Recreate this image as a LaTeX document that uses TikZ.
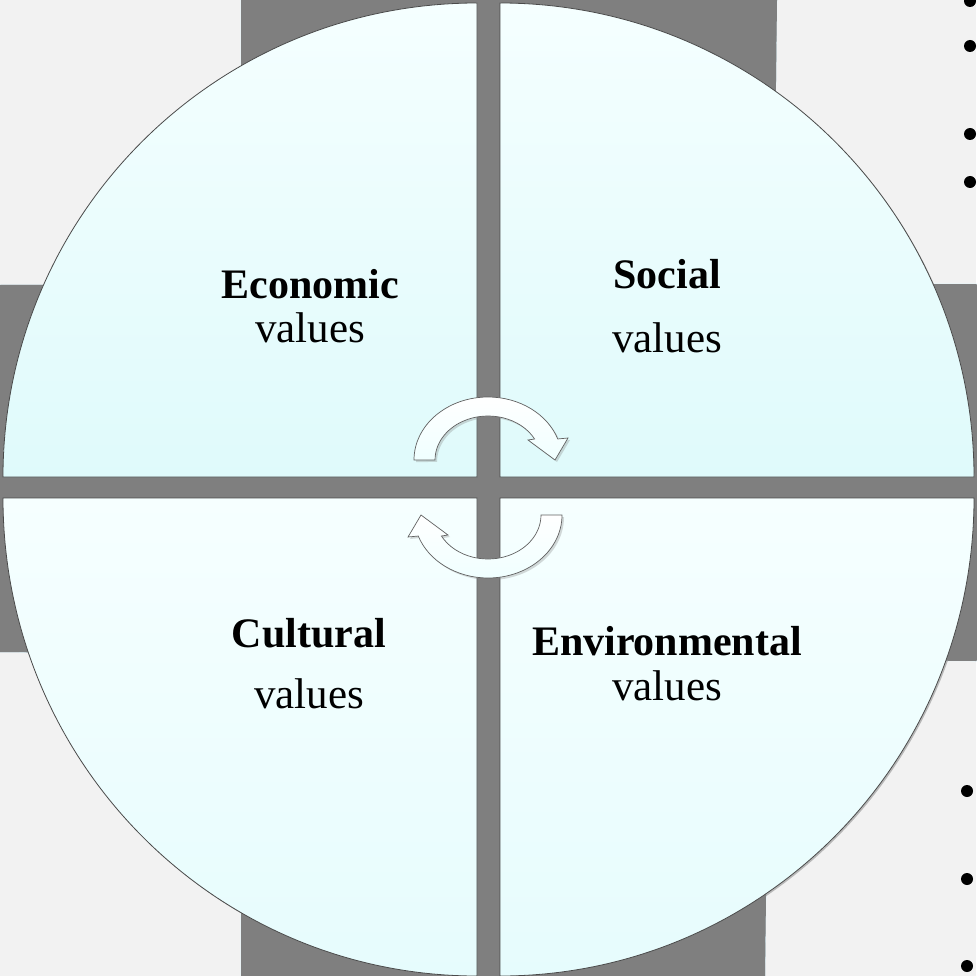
\documentclass[tikz,border=0pt]{standalone}
\usepackage{fontspec}
\setmainfont{Liberation Serif}
\usetikzlibrary{shadows}
\definecolor{bg}{HTML}{F2F2F2}
\definecolor{bar}{HTML}{7F7F7F}
\definecolor{qtop}{HTML}{F5FFFF}
\definecolor{qbot}{HTML}{DFFAFB}
\definecolor{qtopl}{HTML}{F6FFFF}
\definecolor{qbotl}{HTML}{E6FCFD}
\definecolor{edge}{HTML}{4A4A4A}
\tikzset{
  quad/.style={draw=edge, line width=0.8pt,
    drop shadow={opacity=0.5, shadow xshift=1.5pt, shadow yshift=-1.5pt}},
  curvearrow/.style={draw=black!62, line width=0.7pt, top color=white, bottom color=white!94!cyan,
    drop shadow={opacity=0.3, shadow xshift=2pt, shadow yshift=-2pt}},
  lbl/.style={font=\fontsize{43}{50}\selectfont, inner sep=0pt, text=black},
  lblb/.style={font=\fontsize{42}{50}\selectfont\bfseries, inner sep=0pt, text=black},
  dot/.style={circle, fill=black, inner sep=0pt, minimum size=12pt}
}
\begin{document}
\begin{tikzpicture}[x=1pt,y=-1pt]
\useasboundingbox (0,0) rectangle (976,976);
\fill[bg] (0,0) rectangle (976,976);
% gray cross behind the circle
\fill[bar, draw=cyan!12, line width=0.6pt] (241,-2) -- (777,-2) -- (765,978) -- (241,978) -- cycle;
\fill[bar, draw=cyan!12, line width=0.6pt] (-2,285) -- (978,284) -- (978,661) -- (-2,652) -- cycle;
\fill[bar] (241,0) -- (777,0) -- (765,976) -- (241,976) -- cycle;
\fill[bar] (0,285) -- (976,284) -- (976,661) -- (0,652) -- cycle;
% quadrants
\path[quad, top color=qtop, bottom color=qbot] (477,477) -- (3,477) arc[start angle=180, end angle=270, radius=474] -- cycle;
\path[quad, top color=qtop, bottom color=qbot] (500,477) -- (500,3) arc[start angle=270, end angle=360, radius=474] -- cycle;
\path[quad, top color=qtopl, bottom color=qbotl] (477,498) -- (477,976) arc[start angle=90, end angle=180, x radius=474, y radius=478] -- cycle;
\path[quad, top color=qtopl, bottom color=qbotl] (500,498) -- (974,498) arc[start angle=0, end angle=90, x radius=474, y radius=478] -- cycle;
% curved arrows
\path[curvearrow] (414,460) arc[start angle=180, end angle=340.5, x radius=74, y radius=63]
  -- (568,438) -- (555,460) -- (528,440) -- (534.6,439)
  arc[start angle=331.5, end angle=180, x radius=53, y radius=44] -- cycle;
\begin{scope}[rotate around={180:(488,487.5)}]
\path[curvearrow] (414,460) arc[start angle=180, end angle=340.5, x radius=74, y radius=63]
  -- (568,438) -- (555,460) -- (528,440) -- (534.6,439)
  arc[start angle=331.5, end angle=180, x radius=53, y radius=44] -- cycle;
\end{scope}
% labels
\node[lblb] (econ) at (310,284) {Economic};
\node[lbl] (econv) at (310,328) {values};
\node[lblb] (soc) at (667,274) {Social};
\node[lbl] (socv) at (667,338) {values};
\node[lblb] (cult) at (309,633) {Cultural};
\node[lbl] (cultv) at (309,694) {values};
\node[lblb] (env) at (667,641) {Environmental};
\node[lbl] (envv) at (667,686) {values};
% bullets at right edge
\node[dot] (b1) at (970,1) {};
\node[dot] (b2) at (970,46) {};
\node[dot] (b3) at (970,134) {};
\node[dot] (b4) at (970,182) {};
\node[dot] (b5) at (967,791) {};
\node[dot] (b6) at (967,879) {};
\node[dot] (b7) at (967,966) {};
\end{tikzpicture}
\end{document}
